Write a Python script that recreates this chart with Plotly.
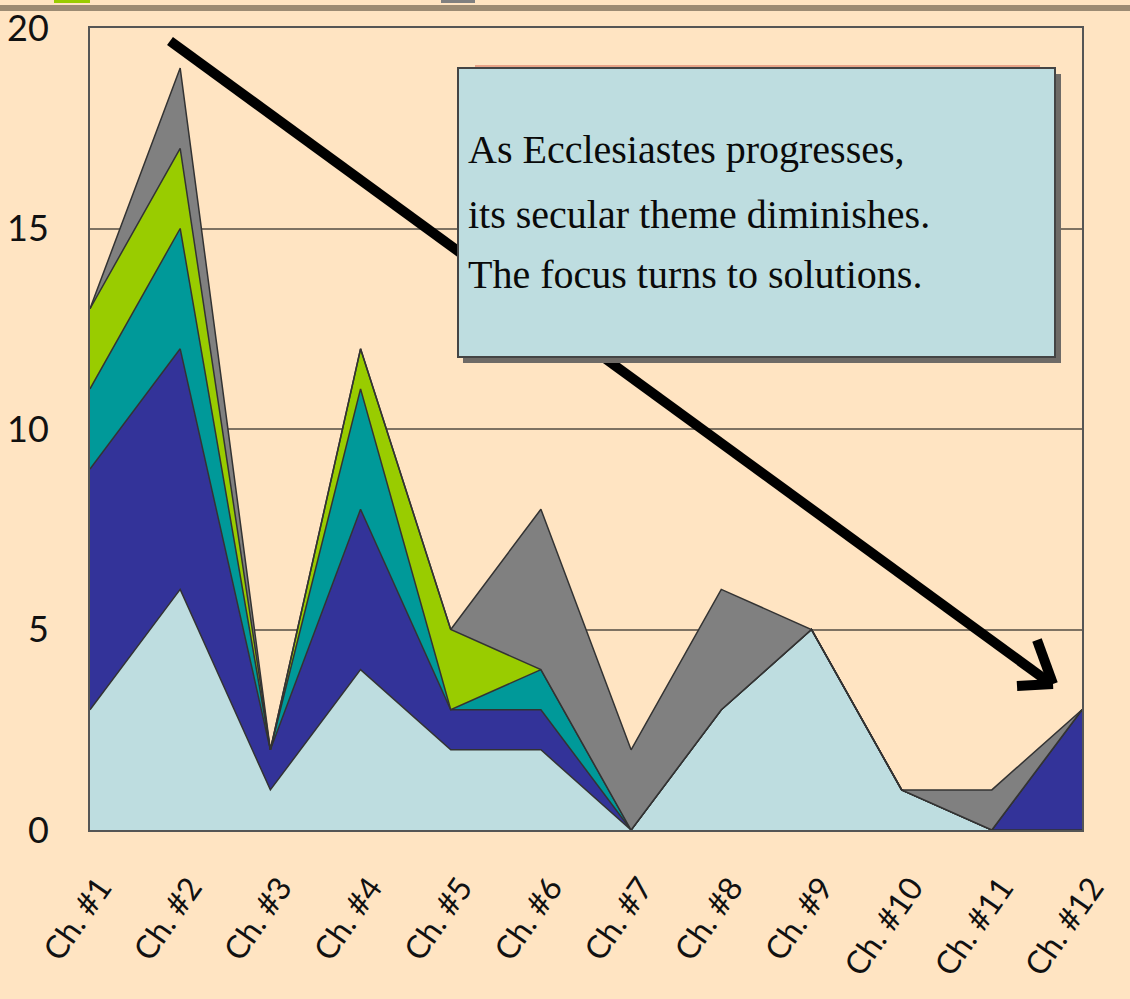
import plotly.graph_objects as go

chapters = ["Ch. #1", "Ch. #2", "Ch. #3", "Ch. #4", "Ch. #5", "Ch. #6",
            "Ch. #7", "Ch. #8", "Ch. #9", "Ch. #10", "Ch. #11", "Ch. #12"]
light_blue = [3, 6, 1, 4, 2, 2, 0, 3, 5, 1, 0, 0]
dark_blue = [6, 6, 1, 4, 1, 1, 0, 0, 0, 0, 0, 3]
teal = [2, 3, 0, 3, 0, 1, 0, 0, 0, 0, 0, 0]
green = [2, 2, 0, 1, 2, 0, 0, 0, 0, 0, 0, 0]
gray = [0, 2, 0, 0, 0, 4, 2, 3, 0, 0, 1, 0]

series = [
    ("Series 1", light_blue, "#BEDDE0"),
    ("Series 2", dark_blue, "#333399"),
    ("Series 3", teal, "#009999"),
    ("Series 4", green, "#99CC00"),
    ("Series 5", gray, "#808080"),
]

BG = "#FFE4C2"
W, H = 1130, 999
L, R, T, B = 90, 48, 28, 169
PW, PH = W - L - R, H - T - B


def px(x):
    return (x - L) / PW


def py(y):
    return (H - B - y) / PH


fig = go.Figure()
for name, vals, col in series:
    fig.add_trace(go.Scatter(
        x=chapters, y=vals, name=name, mode="lines",
        stackgroup="one", fillcolor=col,
        line=dict(color="#333333", width=1.5),
        showlegend=False, hoverinfo="skip"))

shapes = []
# top separator line and partial legend swatches
shapes.append(dict(type="line", xref="paper", yref="paper",
                   x0=px(0), x1=px(W), y0=py(8), y1=py(8),
                   line=dict(color="#9C8B73", width=6)))
shapes.append(dict(type="rect", xref="paper", yref="paper",
                   x0=px(54), x1=px(90), y0=py(0), y1=py(3),
                   fillcolor="#99CC00", line=dict(width=0)))
shapes.append(dict(type="rect", xref="paper", yref="paper",
                   x0=px(441), x1=px(475), y0=py(0), y1=py(3),
                   fillcolor="#808080", line=dict(width=0)))

# arrow
shapes.append(dict(type="line", xref="paper", yref="paper",
                   x0=px(170), y0=py(41), x1=px(1050), y1=py(683),
                   line=dict(color="black", width=10)))
shapes.append(dict(type="line", xref="paper", yref="paper",
                   x0=px(1053), y0=py(684), x1=px(1017), y1=py(686),
                   line=dict(color="black", width=10)))
shapes.append(dict(type="line", xref="paper", yref="paper",
                   x0=px(1053), y0=py(684), x1=px(1037), y1=py(640),
                   line=dict(color="black", width=10)))

# text box: shadow, then box
shapes.append(dict(type="rect", xref="paper", yref="paper",
                   x0=px(463), x1=px(1061), y0=py(74), y1=py(363),
                   fillcolor="#6E6A66", line=dict(width=0)))
shapes.append(dict(type="line", xref="paper", yref="paper",
                   x0=px(475), x1=px(1040), y0=py(66), y1=py(66),
                   line=dict(color="#E9A488", width=2)))
shapes.append(dict(type="rect", xref="paper", yref="paper",
                   x0=px(458), x1=px(1055), y0=py(68), y1=py(357),
                   fillcolor="#BEDDE0", line=dict(color="#444444", width=2)))

lines = ["As Ecclesiastes progresses,",
         "its secular theme diminishes.",
         "The focus turns to solutions."]
line_y = [150, 214, 274]
annotations = []
for txt, yy in zip(lines, line_y):
    annotations.append(dict(
        text=txt, xref="paper", yref="paper", x=px(466), y=py(yy),
        xanchor="left", yanchor="middle", showarrow=False,
        font=dict(family="Liberation Serif, Times New Roman, serif",
                  size=40, color="#0A0A0A")))

fig.update_layout(
    width=W, height=H,
    margin=dict(l=L, r=R, t=T, b=B, pad=0, autoexpand=False),
    paper_bgcolor=BG, plot_bgcolor=BG,
    shapes=shapes, annotations=annotations,
    showlegend=False,
    xaxis=dict(
        type="category", range=[0, 11], showgrid=False, automargin=False,
        showline=True, mirror=True, linecolor="#555555", linewidth=2,
        tickangle=-55, ticks="", zeroline=False,
        ticklabelstandoff=24, ticklabelshift=10,
        tickfont=dict(family="Lato, sans-serif", size=32, color="#111111"),
    ),
    yaxis=dict(
        range=[0, 20], tickvals=[0, 5, 10, 15, 20], automargin=False,
        showgrid=True, gridcolor="#7E7262", gridwidth=2,
        showline=True, mirror=True, linecolor="#555555", linewidth=2,
        zeroline=False, ticks="", ticklabelstandoff=32,
        tickfont=dict(family="Lato, sans-serif", size=36, color="#111111"),
    ),
)

fig.write_html("out.html")
